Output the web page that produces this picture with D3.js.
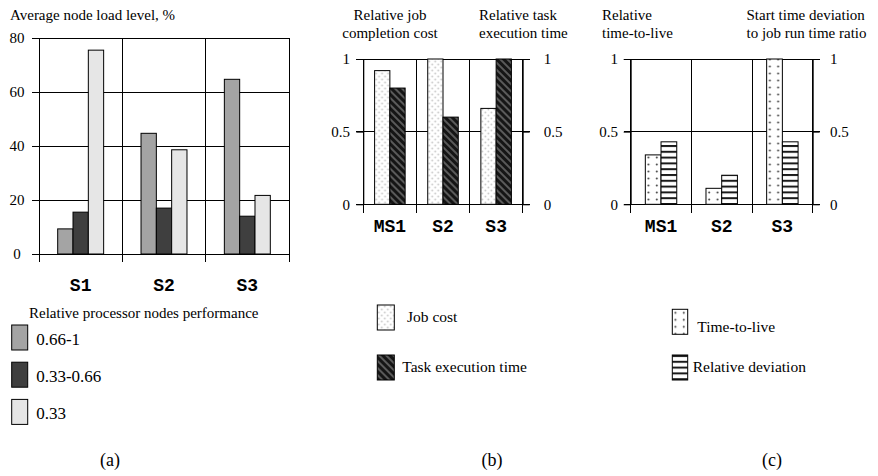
<!DOCTYPE html>
<html><head><meta charset="utf-8">
<script src="https://cdn.jsdelivr.net/npm/d3@7"></script>
<style>
body{margin:0;background:#fff;}
text{font-family:"Liberation Serif","Times New Roman",serif;fill:#000;}
.cat{font-family:"Liberation Mono","Courier New",monospace;font-weight:bold;}
</style></head>
<body>
<script>
// ---------- data ----------
const catsA = ["S1", "S2", "S3"];
const seriesA = ["0.66-1", "0.33-0.66", "0.33"];
const loadHigh = [9.3, 44.7, 64.7];
const loadMid = [15.5, 17, 14];
const loadLow = [75.5, 38.6, 21.7];
const ticksA = [0, 20, 40, 60, 80];

const catsBC = ["MS1", "S2", "S3"];
const seriesB = ["Job cost", "Task execution time"];
const jobCost = [0.92, 1.0, 0.66];
const taskTime = [0.80, 0.60, 1.0];
const seriesC = ["Time-to-live", "Relative deviation"];
const timeToLive = [0.34, 0.11, 1.0];
const deviation = [0.43, 0.20, 0.43];
const ticksBC = [0, 0.5, 1];

// ---------- setup ----------
const svg = d3.select("body").append("svg").attr("width", 878).attr("height", 476);
const defs = svg.append("defs");

// light dotted (job cost)
let p = defs.append("pattern").attr("id", "pJob").attr("patternUnits", "userSpaceOnUse").attr("width", 6).attr("height", 6);
p.append("rect").attr("width", 6).attr("height", 6).attr("fill", "#fff");
p.append("circle").attr("cx", 1.5).attr("cy", 1.5).attr("r", 0.9).attr("fill", "#c8c8c8");
p.append("circle").attr("cx", 4.5).attr("cy", 4.5).attr("r", 0.9).attr("fill", "#c8c8c8");
// dark diagonal (task time)
p = defs.append("pattern").attr("id", "pTask").attr("patternUnits", "userSpaceOnUse").attr("width", 5).attr("height", 5).attr("patternTransform", "rotate(-45)");
p.append("rect").attr("width", 5).attr("height", 5).attr("fill", "#151515");
p.append("rect").attr("width", 2).attr("height", 5).attr("fill", "#5a5a5a");
// dots (time-to-live)
p = defs.append("pattern").attr("id", "pTtl").attr("patternUnits", "userSpaceOnUse").attr("width", 15.7).attr("height", 7);
p.append("rect").attr("width", 15.7).attr("height", 7).attr("fill", "#fff");
p.append("circle").attr("cx", 3.2).attr("cy", 3.5).attr("r", 1).attr("fill", "#444");
p.append("circle").attr("cx", 11.5).attr("cy", 3.5).attr("r", 1).attr("fill", "#444");
// horizontal stripes (deviation)
p = defs.append("pattern").attr("id", "pDev").attr("patternUnits", "userSpaceOnUse").attr("width", 4).attr("height", 5.8);
p.append("rect").attr("width", 4).attr("height", 5.8).attr("fill", "#fff");
p.append("rect").attr("y", 0).attr("width", 4).attr("height", 2).attr("fill", "#1a1a1a");

const colorsA = {"0.66-1": "#a4a4a4", "0.33-0.66": "#3f3f3f", "0.33": "#e6e6e6"};
const fillB = {"Job cost": "url(#pJob)", "Task execution time": "url(#pTask)"};
const fillC = {"Time-to-live": "url(#pTtl)", "Relative deviation": "url(#pDev)"};

function styleAxis(g) {
  g.select(".domain").attr("stroke", "#000");
  g.selectAll(".tick line").attr("stroke", "#000");
  g.selectAll(".tick text").attr("font-family", "Liberation Serif").attr("font-size", 15).attr("fill", "#000");
}

// ---------- panel (a) ----------
const xA = d3.scaleBand().domain(catsA).range([39, 289]);
const yA = d3.scaleLinear().domain([0, 80]).range([254, 38]);
const x1A = d3.scaleBand().domain(seriesA).range([0, xA.bandwidth()]).paddingOuter(1.22);
const valsA = [loadHigh, loadMid, loadLow];
const gA = svg.append("g");
gA.selectAll("line.h").data(ticksA).join("line")
  .attr("x1", 32).attr("x2", 289).attr("y1", d => yA(d)).attr("y2", d => yA(d))
  .attr("stroke", "#000").attr("shape-rendering", "crispEdges");
gA.selectAll("line.v").data(catsA).join("line").attr("class", "v")
  .attr("x1", d => xA(d) + xA.bandwidth()).attr("x2", d => xA(d) + xA.bandwidth())
  .attr("y1", yA(80)).attr("y2", 262).attr("stroke", "#000").attr("shape-rendering", "crispEdges");
gA.append("line").attr("x1", 39).attr("x2", 39).attr("y1", yA(0)).attr("y2", 262).attr("stroke", "#000").attr("shape-rendering", "crispEdges");
const axA = gA.append("g").attr("transform", "translate(39,0)")
  .call(d3.axisLeft(yA).tickValues(ticksA).tickSize(7).tickSizeOuter(0).tickPadding(6));
styleAxis(axA);
axA.selectAll(".tick text").attr("text-anchor", "middle").attr("x", -22);
catsA.forEach((c, j) => {
  gA.selectAll(null).data(seriesA.map((s, i) => ({s, v: valsA[i][j]}))).join("rect")
    .attr("x", d => xA(c) + x1A(d.s)).attr("width", x1A.bandwidth())
    .attr("y", d => yA(d.v)).attr("height", d => yA(0) - yA(d.v))
    .attr("fill", d => colorsA[d.s]).attr("stroke", "#000").attr("stroke-width", 1);
});
gA.selectAll("text.cat").data(catsA).join("text").attr("class", "cat")
  .attr("x", d => xA(d) + xA.bandwidth() / 2).attr("y", 291).attr("text-anchor", "middle").attr("font-size", 18).text(d => d);
gA.append("text").attr("x", 10).attr("y", 20).attr("font-size", 15).text("Average node load level, %");
// legend a
gA.append("text").attr("x", 29).attr("y", 318).attr("font-size", 15).text("Relative processor nodes performance");
const legA = gA.selectAll("g.leg").data(seriesA).join("g").attr("transform", (d, i) => `translate(11.7,${325 + i * 37.2})`);
legA.append("rect").attr("width", 16).attr("height", 25).attr("fill", d => colorsA[d]).attr("stroke", "#000");
legA.append("text").attr("x", 24.5).attr("y", 20).attr("font-size", 17).text(d => d);
gA.append("text").attr("x", 110).attr("y", 466).attr("text-anchor", "middle").attr("font-size", 18).text("(a)");

// ---------- generic panel for (b) and (c) ----------
function panel(opt) {
  const g = svg.append("g");
  const x = d3.scaleBand().domain(catsBC).range([opt.x0, opt.x1]);
  const y = d3.scaleLinear().domain([0, 1]).range([204.3, 59]);
  const x1 = d3.scaleBand().domain(opt.series).range([0, x.bandwidth()]).paddingOuter(opt.pad);
  g.selectAll("line.h").data(ticksBC).join("line").attr("class", "h")
    .attr("x1", opt.x0 - 7).attr("x2", opt.x1 + 7).attr("y1", d => y(d)).attr("y2", d => y(d))
    .attr("stroke", "#000").attr("shape-rendering", "crispEdges");
  g.selectAll("line.v").data([opt.x0].concat(catsBC.map(c => x(c) + x.bandwidth()))).join("line").attr("class", "v")
    .attr("x1", d => d).attr("x2", d => d).attr("y1", y(1)).attr("y2", 213)
    .attr("stroke", "#000").attr("shape-rendering", "crispEdges");
  const fmt = d => String(d);
  const al = g.append("g").attr("transform", `translate(${opt.x0},0)`)
    .call(d3.axisLeft(y).tickValues(ticksBC).tickFormat(fmt).tickSize(7).tickSizeOuter(0).tickPadding(opt.padL));
  styleAxis(al);
  const ar = g.append("g").attr("transform", `translate(${opt.x1},0)`)
    .call(d3.axisRight(y).tickValues(ticksBC).tickFormat(fmt).tickSize(7).tickSizeOuter(0).tickPadding(opt.padR));
  styleAxis(ar);
  catsBC.forEach((c, j) => {
    opt.series.forEach((s, i) => {
      const v = opt.vals[i][j];
      g.append("g").attr("transform", `translate(${x(c) + x1(s)},0)`)
        .append("rect").attr("x", 0).attr("width", x1.bandwidth())
        .attr("y", y(v)).attr("height", y(0) - y(v))
        .attr("fill", opt.fills[s]).attr("stroke", "#000").attr("stroke-width", 1);
    });
  });
  g.selectAll("text.cat").data(catsBC).join("text").attr("class", "cat")
    .attr("x", d => x(d) + x.bandwidth() / 2).attr("y", 232).attr("text-anchor", "middle").attr("font-size", 18).text(d => d);
  opt.titles.forEach(t => {
    g.append("text").attr("x", t[0]).attr("y", t[1]).attr("text-anchor", t[2]).attr("font-size", 15).text(t[3]);
  });
  const leg = g.selectAll("g.leg").data(opt.series).join("g")
    .attr("transform", (d, i) => `translate(${opt.legX},${opt.legY[i]})`);
  leg.append("g").append("rect").attr("width", opt.legW).attr("height", 25).attr("fill", d => opt.fills[d]).attr("stroke", "#000");
  leg.append("text").attr("x", (d, i) => opt.legTx[i]).attr("y", (d, i) => opt.legTy[i]).attr("font-size", 15.5).text(d => d);
  g.append("text").attr("x", opt.tag[0]).attr("y", 466).attr("text-anchor", "middle").attr("font-size", 18).text(opt.tag[1]);
}

panel({
  x0: 363.3, x1: 522.7, series: seriesB, vals: [jobCost, taskTime], pad: 0.74, padL: 6.3, padR: 14,
  fills: fillB,
  titles: [[390, 20, "middle", "Relative job"], [390, 38, "middle", "completion cost"],
           [479, 20, "start", "Relative task"], [479, 38, "start", "execution time"]],
  legX: 377.3, legY: [305, 355], legW: 17, legTx: [29.7, 25], legTy: [16.7, 16.7], tag: [492, "(b)"]
});
panel({
  x0: 630.7, x1: 812.7, series: seriesC, vals: [timeToLive, deviation], pad: 0.93, padL: 5.7, padR: 10.3,
  fills: fillC,
  titles: [[602, 20, "start", "Relative"], [602, 38, "start", "time-to-live"],
           [746.5, 20, "start", "Start time deviation"], [746.5, 38, "start", "to job run time ratio"]],
  legX: 672.3, legY: [309.3, 355], legW: 15.4, legTx: [25, 20.4], legTy: [22.4, 16.7], tag: [772, "(c)"]
});
</script>
</body></html>
